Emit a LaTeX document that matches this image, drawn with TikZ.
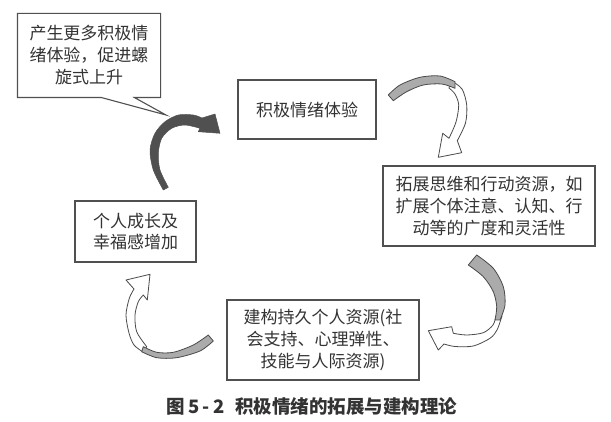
\documentclass[tikz,border=0pt]{standalone}
\usepackage{fontspec}
\newfontfamily\cjk{Noto Sans CJK SC}
\usetikzlibrary{calc}
\definecolor{boxc}{HTML}{505050}
\definecolor{txt}{HTML}{333333}
\definecolor{arrc}{HTML}{4A4A4A}
\definecolor{bandc}{HTML}{ABABAB}
\definecolor{darkc}{HTML}{505050}
\begin{document}
\begin{tikzpicture}[x=1pt,y=-1pt,
  box/.style={draw=boxc, line width=1.1pt, fill=white, inner sep=0pt, align=center, text=txt,
    font=\cjk\fontsize{17}{22}\selectfont},
  boxline/.style={draw=boxc, line width=1.1pt, line join=miter},
  ribbon/.style={fill=white, draw=arrc, line width=0.8pt, line join=round},
  band/.style={fill=bandc, draw=arrc, line width=0.8pt, line join=round},
  darkarrow/.style={fill=darkc, draw=darkc, line width=0.5pt, line join=round}]
\fill[white] (0,0) rectangle (611,422);
\useasboundingbox (0,0) rectangle (611,422);

% nodes
\node[box, minimum width=138pt, minimum height=59pt] (pos) at (307,109.5) {积极情绪体验};
\node[box, minimum width=212pt, minimum height=80pt] (broad) at (489,206)
  {拓展思维和行动资源，如\\扩展个体注意、认知、行\\动等的广度和灵活性};
\node[box, minimum width=192pt, minimum height=80pt] (build) at (323,340)
  {建构持久个人资源(社\\会支持、心理弹性、\\技能与人际资源)};
\node[box, minimum width=121pt, minimum height=61pt, font=\cjk\fontsize{17}{20.5}\selectfont] (grow) at (135.5,231.5)
  {个人成长及\\幸福感增加};

% callout
\node[box, draw=none, fill=none, minimum width=142pt, minimum height=83pt] (call) at (89,55.5)
  {产生更多积极情\\绪体验，促进螺\\旋式上升};
\coordinate (tip) at (166,115);
\draw[boxline] (call.south west) -- ($(call.south west)+(84,0)$) -- (tip)
  -- ($(call.south west)+(117,0)$) -- (call.south east) -- (call.north east)
  -- (call.north west) -- cycle;

% arrow 1 (dark, growth -> positive emotion)
\path[darkarrow] plot[smooth] coordinates {(163.3,190) (153.3,170) (150,150) (155,133.3) (165,121.7) (178.3,115) (193.3,115) (202,118)}
  -- (215,114) -- (220,133.3) -- (198.3,131.7)
  -- plot[smooth] coordinates {(200,128.3) (185,125) (171.7,128.3) (161.7,138.3) (158.3,153.3) (160,170) (168.3,187.3)} -- cycle;

% arrow 2 (positive emotion -> broaden)
\path[ribbon] plot[smooth] coordinates {(451,80.5) (462,89) (466.7,105) (465.5,123) (457.3,140.7)}
  -- (461.7,152.7) -- (438.3,157.3) -- (442.7,133.3)
  -- plot[smooth] coordinates {(449,138.3) (456,122) (458.7,105) (455,94) (449,88)} -- cycle;
\path[band] plot[smooth] coordinates {(388.3,95) (400,85) (420,77.3) (440,76) (455,81.7)}
  -- plot[smooth] coordinates {(455,88.3) (441.7,84) (423.3,85) (406.7,91.7) (393.3,100.7)} -- cycle;

% arrow 3 (broaden -> build)
\path[ribbon] plot[smooth] coordinates {(502,316) (497,330) (490,338.3) (473.3,346) (455,346.5) (444,344)}
  -- (438.3,350) -- (428.3,330.7) -- (451.7,326.7)
  -- plot[smooth] coordinates {(453.3,333.3) (466.7,335) (483.3,332.7) (493,325) (496,316)} -- cycle;
\path[band] plot[smooth] coordinates {(476.7,255) (493.3,268.3) (503.3,286.7) (505,305) (500,320)}
  -- plot[smooth] coordinates {(495,320) (496.7,306.7) (493.3,291.7) (483.3,276.7) (468.3,265)} -- cycle;

% arrow 4 (build -> growth)
\path[ribbon] plot[smooth] coordinates {(143,352) (134,345) (129,333) (126,315) (129.3,298.3) (134,289)}
  -- (126,280) -- (150,274.3) -- (147.3,300)
  -- plot[smooth] coordinates {(143.3,295) (138.3,301.7) (135,315) (136.7,331.7) (146.7,346.7)} -- cycle;
\path[band] plot[smooth] coordinates {(208.3,335) (193.3,345) (173.3,352.3) (156.7,352.3) (143.3,346.7)}
  -- plot[smooth] coordinates {(141.7,351.7) (156.7,357.7) (176.7,357.7) (200,351) (213.3,341)} -- cycle;

% caption
\node[anchor=west, inner sep=0pt, text=txt, font=\cjk\bfseries\fontsize{18.5}{20}\selectfont] (cap) at (166,407)
  {\makebox[69pt][l]{图\hspace{4pt}5\hspace{3pt}-\hspace{3pt}2}积极情绪的拓展与建构理论};
\end{tikzpicture}
\end{document}
